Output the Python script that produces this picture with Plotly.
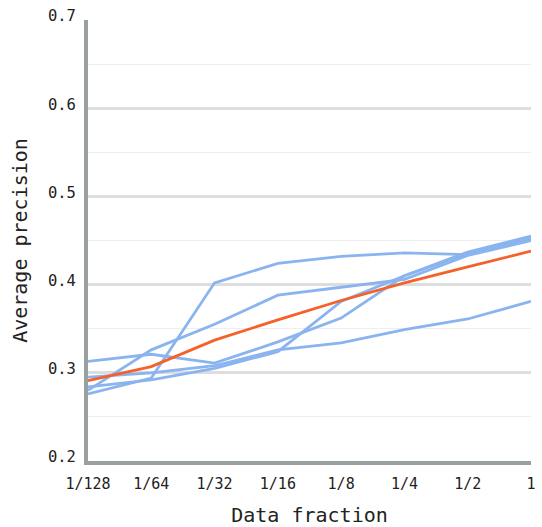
import plotly.graph_objects as go

fractions = ["1/128", "1/64", "1/32", "1/16", "1/8", "1/4", "1/2", "1"]

run_a = [0.313, 0.321, 0.311, 0.335, 0.362, 0.410, 0.435, 0.452]
run_b = [0.276, 0.294, 0.402, 0.424, 0.432, 0.436, 0.434, 0.454]
run_c = [0.280, 0.326, 0.355, 0.388, 0.397, 0.406, 0.433, 0.450]
run_d = [0.295, 0.300, 0.308, 0.326, 0.334, 0.349, 0.361, 0.381]
run_f = [0.284, 0.292, 0.305, 0.324, 0.381, 0.410, 0.437, 0.455]
mean_run = [0.291, 0.307, 0.337, 0.360, 0.382, 0.402, 0.420, 0.438]

runs = [run_a, run_b, run_c, run_d, run_f]

BLUE = "#8AB4F0"
ORANGE = "#F4622A"
FONT = "DejaVu Sans Mono"

fig = go.Figure()
for r in runs:
    fig.add_trace(go.Scatter(x=list(range(len(fractions))), y=r, mode="lines",
                             line=dict(color=BLUE, width=2.8), showlegend=False,
                             hoverinfo="skip"))
fig.add_trace(go.Scatter(x=list(range(len(fractions))), y=mean_run, mode="lines",
                         line=dict(color=ORANGE, width=2.8), showlegend=False,
                         hoverinfo="skip"))

fig.update_layout(
    width=542, height=527,
    margin=dict(l=88, r=11, t=20, b=66),
    plot_bgcolor="white", paper_bgcolor="white",
    font=dict(family=FONT, color="#222222", size=15),
)
fig.update_xaxes(
    range=[0, len(fractions) - 1], automargin=False,
    tickmode="array", tickvals=list(range(len(fractions))), ticktext=fractions,
    showgrid=False, zeroline=False,
    showline=True, linecolor="#9AA09F", linewidth=4,
    ticks="", ticklabelstandoff=6,
    tickfont=dict(size=15, family=FONT, color="#222222"),
    title=dict(text="Data fraction", font=dict(size=20, family=FONT, color="#222222"), standoff=20),
)
fig.update_yaxes(
    range=[0.2, 0.7], automargin=False,
    tickmode="array", tickvals=[0.2, 0.3, 0.4, 0.5, 0.6, 0.7],
    ticktext=["0.2", "0.3", "0.4", "0.5", "0.6", "0.7"],
    showgrid=True, gridcolor="#DDDDDD", gridwidth=3,
    minor=dict(tickvals=[0.25, 0.35, 0.45, 0.55, 0.65], showgrid=True,
               gridcolor="#EEEEEE", gridwidth=1, ticks=""),
    zeroline=False,
    showline=True, linecolor="#9AA09F", linewidth=4,
    ticks="", ticklabelstandoff=5, ticklabelshift=-4,
    tickfont=dict(size=15.5, family=FONT, color="#222222"),
    title=dict(text="Average precision", font=dict(size=20, family=FONT, color="#222222"), standoff=16),
)

fig.write_html("out.html")
